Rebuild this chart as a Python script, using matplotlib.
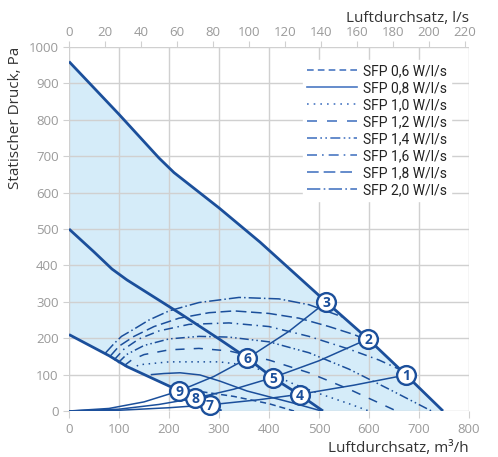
import matplotlib
matplotlib.use("Agg")
import matplotlib.pyplot as plt
from matplotlib.lines import Line2D

# ---- data (Q in m3/h, P in Pa) ----
fan_max_q = [0, 100, 180, 210, 300, 382, 514, 598, 674, 748]
fan_max_p = [960, 815, 695, 655, 558, 464, 300, 198, 99, 0]
fan_mid_q = [0, 50, 86, 116, 222, 300, 356, 408, 462, 508]
fan_mid_p = [500, 437, 390, 360, 268, 198, 146, 91, 44, 0]
fan_min_q = [0, 40, 80, 116, 160, 220, 252, 282, 305]
fan_min_p = [210, 181, 152, 122, 94, 56, 36, 16, 0]

sys_a_q = [0, 100, 200, 282, 380, 462, 570, 674]
sys_a_p = [0, 2, 9, 17, 31, 46, 71, 99]
sys_b_q = [0, 100, 180, 252, 330, 408, 500, 598]
sys_b_p = [0, 5, 18, 35, 60, 92, 138, 198]
sys_c_q = [0, 80, 150, 220, 290, 356, 440, 514]
sys_c_p = [0, 7, 25, 55, 95, 144, 219, 299]

sfp_labels = ["SFP 0,6 W/l/s", "SFP 0,8 W/l/s", "SFP 1,0 W/l/s", "SFP 1,2 W/l/s",
              "SFP 1,4 W/l/s", "SFP 1,6 W/l/s", "SFP 1,8 W/l/s", "SFP 2,0 W/l/s"]
sfp_q = [
    [245, 270, 330, 400, 450],
    [165, 190, 222, 262, 302, 356, 448, 505],
    [125, 140, 200, 300, 356, 400, 448, 500, 560, 600],
    [110, 125, 150, 200, 260, 320, 400, 480, 560, 655],
    [98, 115, 150, 200, 260, 320, 400, 480, 560, 640, 725],
    [90, 110, 140, 180, 240, 320, 400, 480, 560, 620, 660],
    [82, 100, 130, 170, 220, 280, 330, 400, 460, 520, 570, 605],
    [72, 90, 105, 130, 160, 200, 260, 340, 420, 480, 548],
]
sfp_p = [
    [55, 52, 40, 20, 0],
    [100, 103, 105, 99, 82, 55, 22, 0],
    [115, 127, 135, 135, 126, 105, 75, 48, 20, 0],
    [124, 140, 155, 168, 172, 165, 140, 105, 60, 0],
    [132, 155, 180, 198, 205, 203, 190, 160, 115, 60, 0],
    [140, 170, 198, 220, 238, 242, 232, 205, 170, 140, 115],
    [150, 178, 205, 232, 255, 270, 275, 268, 255, 232, 210, 190],
    [158, 185, 205, 225, 250, 275, 298, 312, 308, 292, 258],
]
sfp_styles = [(0, (4, 2.5)), "-", (0, (1, 3)), (0, (6, 6)),
              (0, (6, 2, 1, 2, 1, 2)), (0, (6, 3, 1, 3)), (0, (7, 3)), (0, (8, 2, 1, 2))]

point_labels = ["1", "2", "3", "4", "5", "6", "7", "8", "9"]
point_q = [674, 598, 514, 462, 408, 356, 282, 252, 220]
point_p = [99, 198, 299, 44, 91, 146, 16, 36, 55]

x_ticks = [0, 100, 200, 300, 400, 500, 600, 700, 800]
y_ticks = [0, 100, 200, 300, 400, 500, 600, 700, 800, 900, 1000]
top_ticks = [0, 20, 40, 60, 80, 100, 120, 140, 160, 180, 200, 220]

BLUE = "#1b4f9b"
FILL = "#d5ecf9"
GRID = "#d0d0d0"
TICK = "#9a9a9a"
TF = "Open Sans"

fig = plt.figure(figsize=(4.98, 4.57), dpi=100)
ax = fig.add_axes([69 / 498, 1 - 411 / 457, 400 / 498, 364 / 457])

fq = list(fan_max_q) + list(reversed(fan_min_q))
fp = list(fan_max_p) + list(reversed(fan_min_p))
ax.fill(fq, fp, color=FILL, zorder=1, lw=0)

ax.set_xlim(0, 800)
ax.set_ylim(0, 1000)
ax.set_xticks(x_ticks)
ax.set_yticks(y_ticks)
ax.grid(True, color=GRID, lw=1, zorder=1.5)
ax.set_axisbelow(False)
for s in ax.spines.values():
    s.set_visible(False)

for xs, ys in [(fan_max_q, fan_max_p), (fan_mid_q, fan_mid_p), (fan_min_q, fan_min_p)]:
    ax.plot(xs, ys, color=BLUE, lw=2.0, zorder=4, solid_capstyle="butt")

for xs, ys in [(sys_a_q, sys_a_p), (sys_b_q, sys_b_p), (sys_c_q, sys_c_p)]:
    ax.plot(xs, ys, color=BLUE, lw=1.1, zorder=4)

handles = []
for xs, ys, st, lab in zip(sfp_q, sfp_p, sfp_styles, sfp_labels):
    ax.plot(xs, ys, color=BLUE, lw=1.1, ls=st, zorder=3)
    handles.append(Line2D([], [], color="#4a78c2", lw=1.2, ls=st, label=lab))

for lab, q, p in zip(point_labels, point_q, point_p):
    ax.plot(q, p, "o", ms=13.5, mfc="white", mec=BLUE, mew=1.7, zorder=6, clip_on=False)
    ax.text(q, p - 2, lab, ha="center", va="center", color=BLUE, fontsize=10,
            fontweight="bold", family=TF, zorder=7, clip_on=False)

ax.tick_params(axis="both", colors=GRID, labelcolor=TICK, labelsize=9.5, length=4)
ax.tick_params(axis="x", length=5, direction="out")
for t in ax.get_xticklabels() + ax.get_yticklabels():
    t.set_family(TF)

ax.set_xlabel("Luftdurchsatz, m³/h", family=TF, fontsize=11, color="#333333",
              loc="right", labelpad=4)
ax.set_ylabel("Statischer Druck, Pa", family=TF, fontsize=11, color="#333333",
              loc="top", labelpad=4)

top = ax.twiny()
top.set_xlim(0, 800 / 3.6)
top.set_xticks(top_ticks)
for s in top.spines.values():
    s.set_visible(False)
top.tick_params(axis="x", colors=GRID, labelcolor=TICK, labelsize=9.5, length=4, pad=2)
for t in top.get_xticklabels():
    t.set_family(TF)
top.set_xlabel("Luftdurchsatz, l/s", family=TF, fontsize=11, color="#333333",
               loc="right", labelpad=3)

leg = ax.legend(handles=handles, loc="upper right", bbox_to_anchor=(0.955, 0.965),
                frameon=True, facecolor="white", edgecolor="white", framealpha=1,
                prop={"family": "Roboto", "size": 10}, handlelength=3.6,
                handletextpad=0.4, labelspacing=0.22, borderpad=0.3, borderaxespad=0.0)
for t in leg.get_texts():
    t.set_color("#222222")
leg.set_zorder(10)

fig.savefig("out.png", dpi=100)
